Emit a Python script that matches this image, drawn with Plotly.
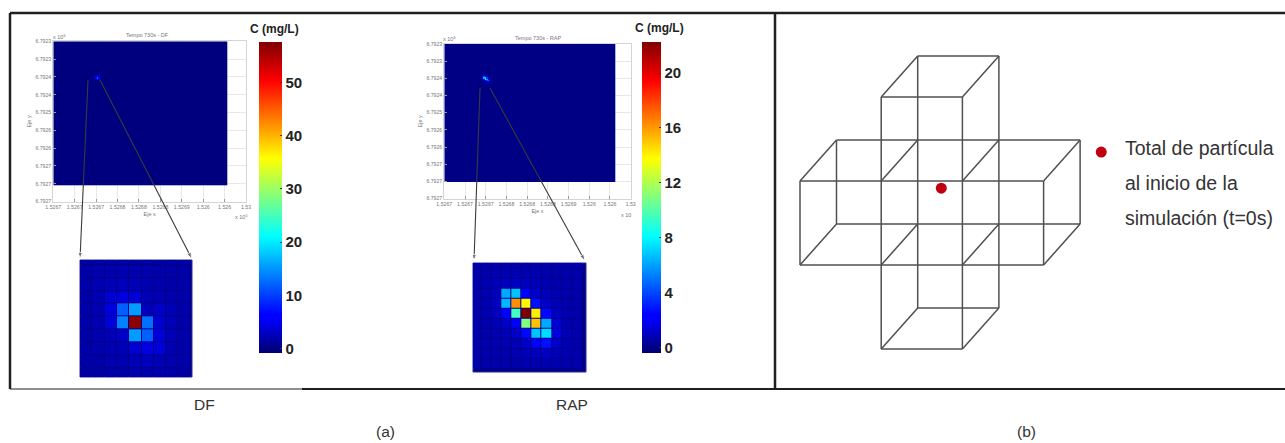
import numpy as np
import plotly.graph_objects as go

W, H = 1285, 443

# ---------- data ----------
x_ticks_df = ["1.5267", "1.5267", "1.5267", "1.5268", "1.5268", "1.5268", "1.5269", "1.526", "1.526", "1.53"]
y_ticks_df = ["6.7923", "6.7923", "6.7924", "6.7924", "6.7925", "6.7926", "6.7926", "6.7927", "6.7927", "6.7927"]
x_ticks_rap = x_ticks_df
y_ticks_rap = y_ticks_df

cbar_df_vals = [0, 10, 20, 30, 40, 50]
cbar_df_text = ["0", "10", "20", "30", "40", "50"]
cbar_rap_vals = [0, 4, 8, 12, 16, 20]
cbar_rap_text = ["0", "4", "8", "12", "16", "20"]
cbar_rap_minor = [2, 6, 10, 14, 18]

inset_df = [
    [1.6, 1.6, 1.6, 1.6, 1.6, 1.6, 1.6, 1.6, 1.6],
    [1.8, 2.0, 2.0, 2.2, 2.0, 2.0, 1.8, 1.8, 1.8],
    [1.8, 2.2, 2.4, 2.6, 2.4, 2.2, 2.0, 1.8, 1.8],
    [1.8, 2.2, 3.6, 4.2, 3.8, 2.4, 2.2, 2.0, 1.8],
    [1.8, 2.2, 4.2, 12.0, 15.5, 2.6, 3.2, 2.4, 1.8],
    [1.8, 2.2, 4.0, 14.0, 57.0, 13.0, 3.6, 2.4, 1.8],
    [1.8, 2.0, 2.4, 3.2, 15.5, 12.0, 4.0, 2.4, 1.8],
    [1.8, 2.0, 2.2, 2.4, 3.6, 4.4, 4.0, 2.2, 1.8],
    [1.8, 1.8, 2.0, 2.2, 2.4, 2.6, 2.4, 2.0, 1.8],
    [1.6, 1.6, 1.8, 1.8, 2.0, 2.0, 2.0, 1.8, 1.6],
]
inset_rap = [
    [0.7, 0.7, 0.7, 0.7, 0.7, 0.7, 0.7, 0.7, 0.7, 0.7, 0.7],
    [0.7, 0.7, 0.8, 0.8, 0.8, 0.8, 0.8, 0.7, 0.7, 0.7, 0.7],
    [0.7, 0.8, 0.9, 1.0, 1.1, 1.0, 0.9, 0.8, 0.7, 0.7, 0.7],
    [0.7, 0.8, 1.0, 6.2, 6.8, 2.4, 1.2, 0.9, 0.8, 0.7, 0.7],
    [0.7, 0.8, 1.1, 6.5, 16.3, 14.0, 2.8, 1.2, 0.9, 0.7, 0.7],
    [0.7, 0.8, 1.0, 2.4, 9.6, 22.3, 14.2, 2.6, 1.1, 0.8, 0.7],
    [0.7, 0.7, 0.9, 1.2, 2.2, 11.0, 15.2, 6.2, 1.4, 0.8, 0.7],
    [0.7, 0.7, 0.8, 0.9, 1.2, 2.6, 6.8, 7.4, 1.6, 0.9, 0.7],
    [0.7, 0.7, 0.7, 0.8, 0.9, 1.2, 2.4, 2.8, 1.2, 0.8, 0.7],
    [0.7, 0.7, 0.7, 0.7, 0.8, 0.9, 1.0, 1.1, 0.9, 0.8, 0.7],
    [0.7, 0.7, 0.7, 0.7, 0.7, 0.8, 0.8, 0.8, 0.8, 0.7, 0.7],
]
spot_df = [
    [0.0, 1.2, 2.4, 1.2, 0.0],
    [1.2, 4.0, 8.0, 4.0, 1.2],
    [1.8, 6.0, 12.0, 6.0, 1.8],
    [0.0, 2.5, 5.0, 3.0, 1.2],
]
spot_rap = [
    [0.0, 0.6, 1.2, 0.6, 0.0, 0.0, 0.0, 0.0],
    [0.4, 1.5, 4.5, 2.5, 1.0, 0.0, 0.0, 0.0],
    [0.4, 1.5, 6.5, 7.5, 3.5, 1.2, 0.4, 0.0],
    [0.0, 0.5, 2.0, 7.5, 6.0, 2.5, 0.8, 0.0],
    [0.0, 0.0, 0.5, 1.5, 4.0, 4.5, 1.5, 0.4],
    [0.0, 0.0, 0.0, 0.4, 0.8, 1.2, 0.6, 0.0],
]
# wireframe cube edges: (i, j, depth) -> (i, j, depth), i/j count cubes across/down the front
cube_edges = [
    ((0, 1, 0), (3, 1, 0)), ((0, 2, 0), (3, 2, 0)), ((0, 1, 1), (3, 1, 1)), ((0, 2, 1), (3, 2, 1)),
    ((1, 0, 0), (2, 0, 0)), ((1, 0, 1), (2, 0, 1)), ((1, 3, 0), (2, 3, 0)), ((1, 3, 1), (2, 3, 1)),
    ((0, 1, 0), (0, 2, 0)), ((0, 1, 1), (0, 2, 1)), ((3, 1, 0), (3, 2, 0)), ((3, 1, 1), (3, 2, 1)),
    ((1, 0, 0), (1, 3, 0)), ((2, 0, 0), (2, 3, 0)), ((1, 0, 1), (1, 3, 1)), ((2, 0, 1), (2, 3, 1)),
    ((0, 1, 0), (0, 1, 1)), ((0, 2, 0), (0, 2, 1)), ((3, 1, 0), (3, 1, 1)), ((3, 2, 0), (3, 2, 1)),
    ((1, 0, 0), (1, 0, 1)), ((2, 0, 0), (2, 0, 1)), ((1, 1, 0), (1, 1, 1)), ((2, 1, 0), (2, 1, 1)),
    ((1, 2, 0), (1, 2, 1)), ((2, 2, 0), (2, 2, 1)), ((1, 3, 0), (1, 3, 1)), ((2, 3, 0), (2, 3, 1)),
]
particle_i, particle_j = [1.74], [1.085]
legend_i, legend_j = [3.71], [0.655]
legend_lines = ["Total de partícula", "al inicio de la", "simulación (t=0s)"]

# ---------- layout helpers (pixels -> paper) ----------
def dx(a, b):
    return [a / W, b / W]

def dy(top, bottom):
    return [1 - bottom / H, 1 - top / H]

def px(x):
    return x / W

def py(y):
    return 1 - y / H

def ci(x):  # pixel -> cube-unit x
    return (x - 800) / 81.2

def cj(y):  # pixel -> cube-unit y
    return (y - 97) / 84

jet = [
    [0.0, "#00006e"], [0.11, "#0000ff"], [0.125, "#0000ff"], [0.375, "#00ffff"],
    [0.625, "#ffff00"], [0.875, "#ff0000"], [1.0, "#800000"],
]

def main_map(spot, col, row, xmax, ymax):
    cw, ch = 0.07, 0.084
    nx, ny = int(round(xmax / cw)), int(round(ymax / ch))
    z = np.zeros((ny, nx))
    s = np.array(spot)
    r0 = int(round(row / ch)) - s.shape[0] // 2
    c0 = int(round(col / cw)) - s.shape[1] // 2
    z[r0:r0 + s.shape[0], c0:c0 + s.shape[1]] = s
    return z, cw, ch

fig = go.Figure()

z1, cw1, ch1 = main_map(spot_df, 2.03, 2.04, 8.13, 8.06)
fig.add_trace(go.Heatmap(z=z1, x0=cw1 / 2, dx=cw1, y0=ch1 / 2, dy=ch1, coloraxis="coloraxis", xaxis="x", yaxis="y", hoverinfo="skip"))
z2, cw2, ch2 = main_map(spot_rap, 2.06, 2.05, 8.25, 8.08)
fig.add_trace(go.Heatmap(z=z2, x0=cw2 / 2, dx=cw2, y0=ch2 / 2, dy=ch2, coloraxis="coloraxis2", xaxis="x2", yaxis="y2", hoverinfo="skip"))
fig.add_trace(go.Heatmap(z=inset_df, coloraxis="coloraxis", xaxis="x3", yaxis="y3", xgap=1, ygap=1, hoverinfo="skip"))
fig.add_trace(go.Heatmap(z=inset_rap, coloraxis="coloraxis2", xaxis="x4", yaxis="y4", xgap=1, ygap=1, hoverinfo="skip"))

# wireframe panel: oblique projection in cube units
DEPTH_X, DEPTH_Y = 36.5 / 81.2, -41.0 / 84.0
wx, wy = [], []
for a, b in cube_edges:
    for p in (a, b):
        wx.append(p[0] + DEPTH_X * p[2])
        wy.append(p[1] + DEPTH_Y * p[2])
    wx.append(None)
    wy.append(None)
fig.add_trace(go.Scatter(x=wx, y=wy, mode="lines", line=dict(color="#505050", width=1.5), xaxis="x5", yaxis="y5", hoverinfo="skip", showlegend=False))
fig.add_trace(go.Scatter(x=particle_i + legend_i, y=particle_j + legend_j, mode="markers",
                         marker=dict(color="#c00010", size=11), xaxis="x5", yaxis="y5", hoverinfo="skip", showlegend=False))

# zoom arrows from each map to its inset
for (x0, y0, x1, y1) in [(88, 80, 80, 259), (100, 80, 192, 259), (480, 88, 474, 261), (490, 88, 585, 261)]:
    fig.add_trace(go.Scatter(x=[ci(x0), ci(x1)], y=[cj(y0), cj(y1)], mode="lines+markers",
                             line=dict(color="#3a3a3a", width=1.1),
                             marker=dict(symbol="arrow", size=[0, 7], angleref="previous", color="#3a3a3a"),
                             xaxis="x5", yaxis="y5", hoverinfo="skip", showlegend=False))

# minor colour-bar ticks of the RAP scale, from the same value-to-pixel scale as the bar
CB2_TOP, CB2_BOT, CB2_MIN, CB2_MAX = 41.5, 352.0, -0.37, 22.3
def cb2_y(v):
    return CB2_BOT - (v - CB2_MIN) / (CB2_MAX - CB2_MIN) * (CB2_BOT - CB2_TOP)

tick_font = dict(family="Liberation Sans", size=5.2, color="#777777")
axis_title_font = dict(family="Liberation Sans", size=5.5, color="#777777")

def map_axes(xt, yt):
    common = dict(showgrid=True, gridcolor="#e8e8e8", gridwidth=1, zeroline=False, showline=True, linecolor="#d4d4d4",
                  mirror=True, ticks="inside", ticklen=3, tickcolor="#9a9a9a", tickfont=tick_font, tickangle=0)
    xa = dict(common, range=[0, 9], tickmode="array", tickvals=list(range(10)), ticktext=xt,
              title=dict(text="Eje x", font=axis_title_font, standoff=3))
    ya = dict(common, range=[9, 0], tickmode="array", tickvals=list(range(10)), ticktext=yt,
              title=dict(text="Eje y", font=axis_title_font, standoff=3))
    return xa, ya

xa1, ya1 = map_axes(x_ticks_df, y_ticks_df)
xa2, ya2 = map_axes(x_ticks_rap, y_ticks_rap)

cbar_font = dict(family="Liberation Sans", size=15, color="#222222", weight="bold")

def cbar(x0, thick, vals, text):
    return dict(x=px(x0), xanchor="left", xpad=0, y=py(41.5), yanchor="top", ypad=0, lenmode="pixels", len=310.5,
                thickness=thick, thicknessmode="pixels", outlinewidth=0, tickmode="array", tickvals=vals, ticktext=text,
                ticks="inside", ticklen=2, tickcolor="#333333", tickfont=cbar_font)

frame = [
    (10, 13, 1285, 13, 2.5), (10, 13, 10, 389, 2.5), (775, 13, 775, 389, 2.5),
    (10, 389, 302, 389, 1.2), (302, 389, 694, 389, 1.8), (694, 389, 1285, 389, 2.2),
]
shapes = [dict(type="line", xref="paper", yref="paper", x0=px(a), y0=py(b), x1=px(c), y1=py(d),
               line=dict(color="#231f20", width=w), layer="above") for a, b, c, d, w in frame]
for a, b, c, d in [(80, 260, 192, 377), (473, 263, 586, 372)]:
    shapes.append(dict(type="rect", xref="paper", yref="paper", x0=px(a), y0=py(d), x1=px(c), y1=py(b),
                       fillcolor="#00008a", line=dict(color="#2a2a9a", width=1), layer="below"))
for v in cbar_rap_minor:
    for xa, xb in [(642, 644), (659, 661)]:
        shapes.append(dict(type="line", xref="paper", yref="paper", x0=px(xa), x1=px(xb), y0=py(cb2_y(v)), y1=py(cb2_y(v)),
                           line=dict(color="#333333", width=1), layer="above"))

def text(s, x, y, size=14, color="#222222", anchor="center", family="Liberation Sans", bold=False):
    return dict(text=f"<b>{s}</b>" if bold else s, x=px(x), y=py(y), xref="paper", yref="paper", showarrow=False,
                xanchor=anchor, yanchor="middle", font=dict(family=family, size=size, color=color))

annotations = [
    text("C (mg/L)", 274, 29, 12, bold=True), text("C (mg/L)", 660, 28, 12, bold=True),
    text("Tempo 730s - DF", 147, 35, 5.5, "#777777"), text("Tempo 730s - RAP", 538, 38, 5.5, "#777777"),
    text("x 10<sup>6</sup>", 59, 37, 5.5, "#777777"), text("x 10<sup>6</sup>", 450, 39, 5.5, "#777777"),
    text("x 10<sup>5</sup>", 241, 217, 5.5, "#777777"), text("x 10", 626, 215, 5.5, "#777777"),
    text("DF", 205, 404, 15.5, "#333333"), text("RAP", 572, 404, 15.5, "#333333"),
    text("(a)", 385, 431, 15.5, "#333333"), text("(b)", 1026, 431, 15.5, "#333333"),
]
for line, yy in zip(legend_lines, [148, 183, 218]):
    annotations.append(text(line, 1123, yy, 19.5, "#333333", "left"))

# cube-unit axes mapped to the full figure: x px = 800 + 81.2 i ; y px = 97 + 84 j
fig.update_layout(
    width=W, height=H, margin=dict(l=0, r=0, t=0, b=0, autoexpand=False), paper_bgcolor="white", plot_bgcolor="rgba(0,0,0,0)",
    showlegend=False, shapes=shapes, annotations=annotations,
    coloraxis=dict(colorscale=jet, cmin=-0.75, cmax=57.7, colorbar=cbar(259, 23, cbar_df_vals, cbar_df_text)),
    coloraxis2=dict(colorscale=jet, cmin=CB2_MIN, cmax=CB2_MAX, colorbar=cbar(642, 19, cbar_rap_vals, cbar_rap_text)),
    xaxis=dict(xa1, domain=dx(53.3, 246), anchor="y"),
    yaxis=dict(ya1, domain=dy(41.3, 201.5), anchor="x"),
    xaxis2=dict(xa2, domain=dx(444.3, 630.7), anchor="y2"),
    yaxis2=dict(ya2, domain=dy(44, 198.5), anchor="x2"),
    xaxis3=dict(domain=dx(80, 192), range=[-0.5, 8.6], visible=False, anchor="y3"),
    yaxis3=dict(domain=dy(260, 377), range=[9.2, 0.1], visible=False, anchor="x3"),
    xaxis4=dict(domain=dx(473, 586), range=[-0.33, 10.9], visible=False, anchor="y4"),
    yaxis4=dict(domain=dy(263, 372), range=[10.83, -0.07], visible=False, anchor="x4"),
    xaxis5=dict(domain=[0, 1], range=[-800 / 81.2, (W - 800) / 81.2], visible=False, anchor="y5"),
    yaxis5=dict(domain=[0, 1], range=[(H - 97) / 84, -97 / 84], visible=False, anchor="x5"),
)

fig.write_html("out.html", config={"displayModeBar": False}, post_script="document.body.style.margin='0';")
